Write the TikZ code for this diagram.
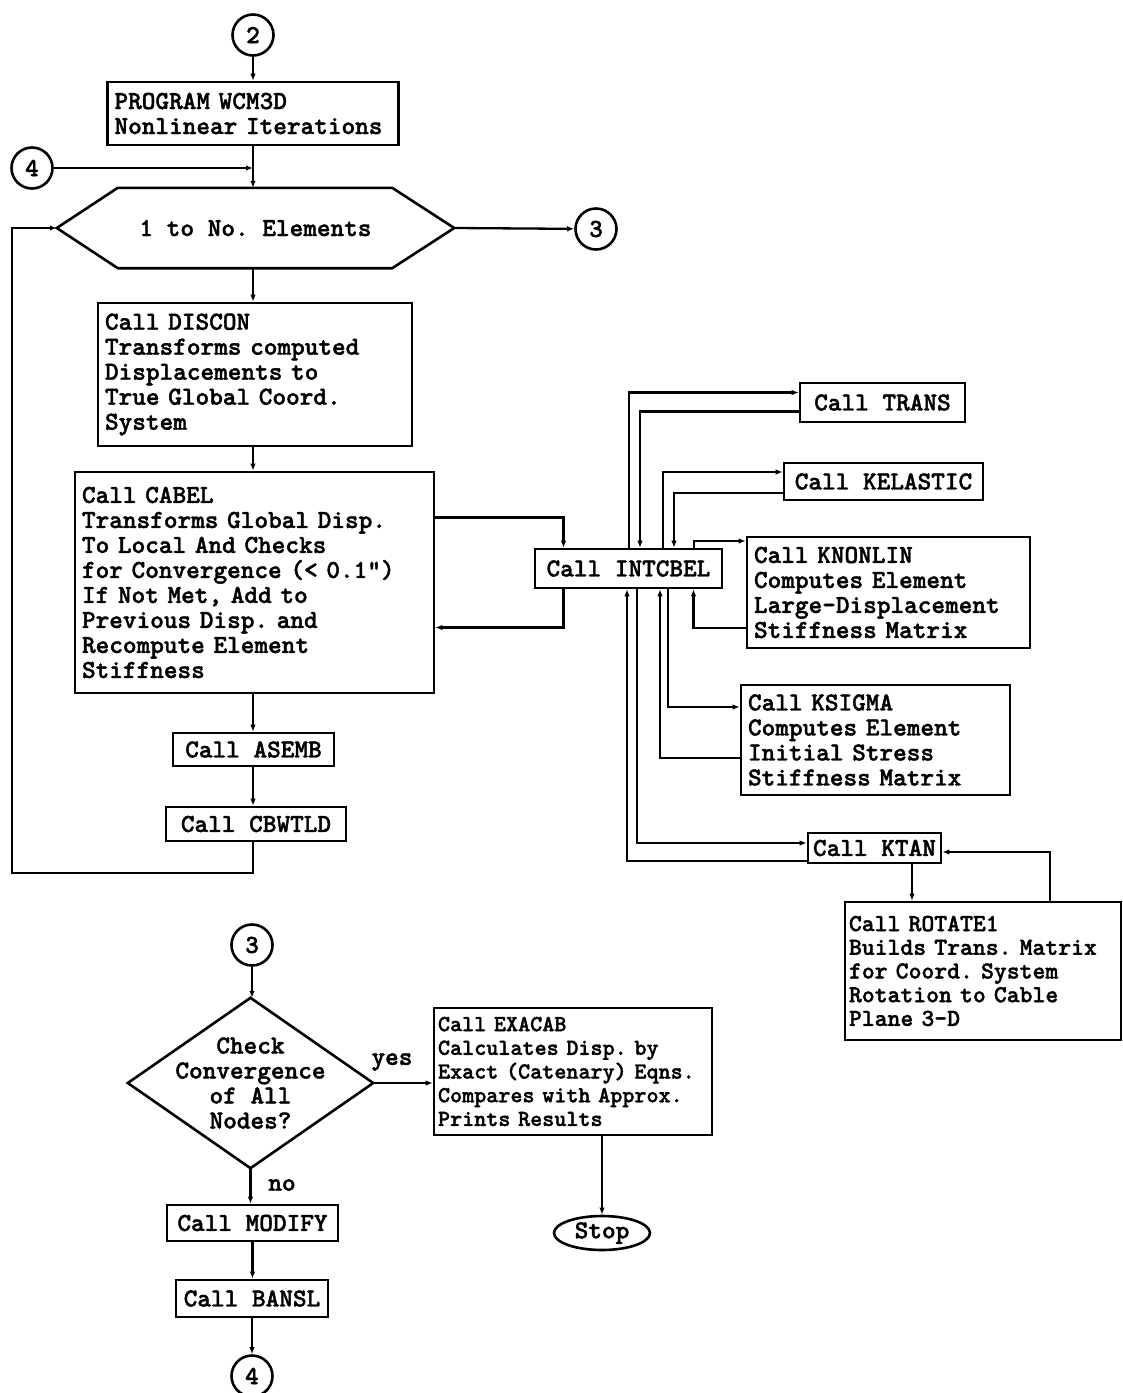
\documentclass[tikz,border=0pt]{standalone}
\usepackage{fontspec}
\newfontfamily\flowfont{lmmonolt10-bold.otf}[FakeBold=1.5]
\usetikzlibrary{arrows.meta,shapes.geometric}
\frenchspacing

\tikzset{
  flowtext/.style={font=\flowfont\fontsize{26pt}{25pt}\selectfont},
  smalltext/.style={font=\flowfont\fontsize{24.5pt}{23.7pt}\selectfont},
  tinytext/.style={font=\flowfont\fontsize{23pt}{23.7pt}\selectfont},
  callbox/.style={flowtext, draw, line width=2.6pt, align=left, inner xsep=7pt, inner ysep=0pt},
  callone/.style={flowtext, draw, line width=2.6pt, inner sep=0pt},
  connector/.style={flowtext, draw, circle, line width=2.6pt, inner sep=0pt, minimum size=41pt},
  flow/.style={line width=2.3pt, -{Latex[length=7pt,width=5.5pt]}},
}

\begin{document}
\frenchspacing
\begin{tikzpicture}[x=1pt,y=-1pt]
\useasboundingbox (0,0) rectangle (1123,1393);

\node[connector] (top2) at (253,35) {2};
\node[callbox, text width=277pt, minimum height=63pt] (prog) at (253,113.5) {PROGRAM WCM3D\\Nonlinear Iterations};
\node[connector] (in4) at (32,168) {4};
\node[flowtext, inner sep=0pt, minimum width=397pt, minimum height=80pt] (loop) at (255.5,228) {1 to No. Elements};
\draw[line width=2.6pt] (loop.west) -- ([xshift=61pt]loop.north west) -- ([xshift=-62pt]loop.north east)
  -- (loop.east) -- ([xshift=-62pt]loop.south east) -- ([xshift=61pt]loop.south west) -- cycle;
\node[connector] (out3) at (596,229) {3};

\node[callbox, text width=300pt, minimum height=143pt] (discon) at (255,374.5)
  {Call DISCON\\Transforms computed\\Displacements to\\True Global Coord.\\System};
\node[callbox, text width=345pt, minimum height=221pt] (cabel) at (254.5,582.5)
  {Call CABEL\\Transforms Global Disp.\\To Local And Checks\\for Convergence (< 0.1")\\If Not Met, Add to\\Previous Disp. and\\Recompute Element\\Stiffness};
\node[callone, minimum width=161pt, minimum height=33pt] (asemb) at (253.5,749.5) {Call ASEMB};
\node[callone, minimum width=180pt, minimum height=34pt] (cbwtld) at (256,824) {Call CBWTLD};
\coordinate (back) at (12,873);

\node[callone, minimum width=187pt, minimum height=39pt] (intcbel) at (628.5,568.5) {Call INTCBEL};
\node[callone, minimum width=165pt, minimum height=39pt] (trans) at (882.5,402.5) {Call TRANS};
\node[callone, minimum width=199pt, minimum height=37pt] (kelastic) at (883.5,481.5) {Call KELASTIC};
\node[callbox, text width=269pt, minimum height=111pt] (knonlin) at (888.5,592.5)
  {Call KNONLIN\\Computes Element\\Large-Displacement\\Stiffness Matrix};
\node[callbox, text width=255pt, minimum height=110pt] (ksigma) at (875.5,740)
  {Call KSIGMA\\Computes Element\\Initial Stress\\Stiffness Matrix};
\node[callone, minimum width=133pt, minimum height=30pt] (ktan) at (874.5,848) {Call KTAN};
\node[callbox, smalltext, inner xsep=4pt, text width=268pt, minimum height=138pt] (rotate) at (983,971)
  {Call ROTATE1\\Builds Trans. Matrix\\for Coord. System\\Rotation to Cable\\Plane 3-D};

\node[connector] (in3) at (252,945) {3};
\node[flowtext, align=center, inner sep=0pt, minimum width=245pt, minimum height=170pt] (check) at (250.5,1083)
  {Check\\Convergence\\of All\\Nodes?};
\draw[line width=2.6pt] (check.north) -- (check.east) -- (check.south) -- (check.west) -- cycle;
\node[flowtext] (yes) at (392,1062) {yes};
\node[flowtext] (no) at (282,1185) {no};
\node[callbox, tinytext, inner xsep=4pt, text width=270pt, minimum height=127pt] (exacab) at (573,1071.5)
  {Call EXACAB\\Calculates Disp. by\\Exact (Catenary) Eqns.\\Compares with Approx.\\Prints Results};
\node[flowtext, draw, ellipse, line width=2.6pt, inner sep=0pt, minimum width=96pt, minimum height=34pt] (stop) at (602,1233) {Stop};
\node[callone, minimum width=171pt, minimum height=36pt] (modify) at (252.5,1223) {Call MODIFY};
\node[callone, minimum width=152pt, minimum height=37pt] (bansl) at (252,1298.5) {Call BANSL};
\node[connector] (in4b) at (252,1376) {4};

\draw[flow] (top2) -- (top2 |- prog.north);
\draw[flow] (prog.south) -- (prog.south |- loop.north);
\draw[flow] (in4) -- (in4 -| prog.south);
\draw[flow] (loop.east) -- (out3);
\draw[flow] (prog.south |- loop.south) -- (prog.south |- discon.north);
\draw[flow] (prog.south |- discon.south) -- (prog.south |- cabel.north);
\draw[flow] (prog.south |- cabel.south) -- (prog.south |- asemb.north);
\draw[flow] (prog.south |- asemb.south) -- (prog.south |- cbwtld.north);
\draw[flow] (prog.south |- cbwtld.south) |- (back) |- (loop.west);

\draw[flow] ([yshift=65pt]cabel.east) -| ([xshift=-65pt]intcbel.north);
\draw[flow] ([xshift=-65pt]intcbel.south) |- ([yshift=-45pt]cabel.east);

\draw[flow] ([xshift=0.5pt]intcbel.north) |- ([yshift=10pt]trans.west);
\draw[flow] ([yshift=-9pt]trans.west) -| ([xshift=11.5pt]intcbel.north);
\draw[flow] ([xshift=34.5pt]intcbel.north) |- ([yshift=9.5pt]kelastic.west);
\draw[flow] ([yshift=-11.5pt]kelastic.west) -| ([xshift=45.5pt]intcbel.north);
\draw[flow] ([xshift=65.5pt]intcbel.north) |- ([yshift=51.5pt]knonlin.west);
\draw[flow] ([yshift=-35.5pt]knonlin.west) -| ([xshift=65pt]intcbel.south);
\draw[flow] ([xshift=39.5pt]intcbel.south) |- ([yshift=33pt]ksigma.west);
\draw[flow] ([yshift=-18pt]ksigma.west) -| ([xshift=31.5pt]intcbel.south);
\draw[flow] ([xshift=8.5pt]intcbel.south) |- ([yshift=5pt]ktan.west);
\draw[flow] ([yshift=-13pt]ktan.west) -| ([xshift=-1.5pt]intcbel.south);
\draw[flow] ([xshift=37.5pt]ktan.south) -- ([xshift=37.5pt]ktan.south |- rotate.north);
\draw[flow] ([xshift=67pt]rotate.north) |- ([yshift=-4pt]ktan.east);

\draw[flow] (in3) -- (in3 |- check.north);
\draw[flow] (check.east) -- (check.east -| exacab.west);
\draw[flow] (stop |- exacab.south) -- (stop);
\draw[flow] (check.south) -- (check.south |- modify.north);
\draw[flow] (modify) -- (modify |- bansl.north);
\draw[flow] (bansl) -- (in4b);

\end{tikzpicture}
\end{document}
